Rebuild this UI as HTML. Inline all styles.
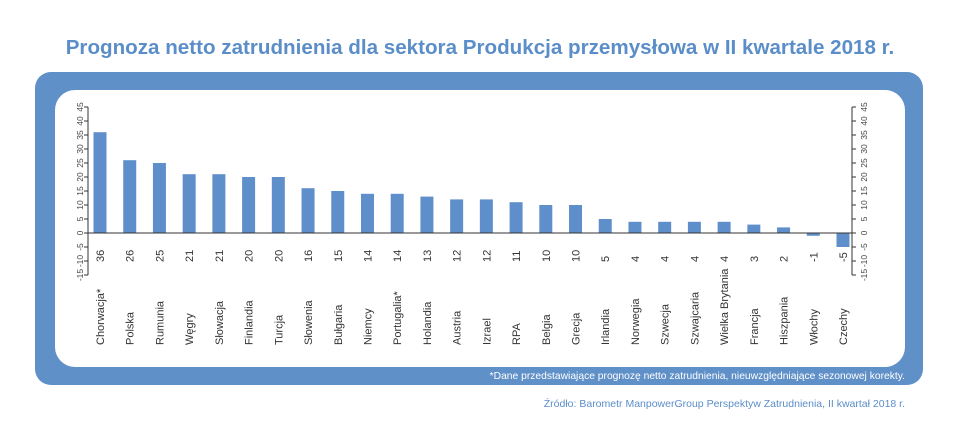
<!DOCTYPE html>
<html><head><meta charset="utf-8"><style>
body{margin:0;width:960px;height:437px;background:#fff;overflow:hidden;font-family:"Liberation Sans",sans-serif}
</style></head><body>
<svg width="960" height="437">
<text x="480" y="54" text-anchor="middle" font-size="20.6" font-weight="bold" fill="#5b8ec9">Prognoza netto zatrudnienia dla sektora Produkcja przemysłowa w II kwartale 2018 r.</text>
<rect x="35" y="72" width="888" height="313" rx="16" fill="#6090c8"/>
<rect x="55" y="90" width="850" height="277" rx="20" fill="#fff"/>
<text x="905" y="379" text-anchor="end" font-size="10.3" fill="#fff">*Dane przedstawiające prognozę netto zatrudnienia, nieuwzględniające sezonowej korekty.</text>
<text x="905" y="407" text-anchor="end" font-size="10.5" fill="#5b8ec9">Źródło: Barometr ManpowerGroup Perspektyw Zatrudnienia, II kwartał 2018 r.</text>
<g id="plot"></g>
</svg>
<script>
const categories=["Chorwacja*","Polska","Rumunia","Węgry","Słowacja","Finlandia","Turcja","Słowenia","Bułgaria","Niemcy","Portugalia*","Holandia","Austria","Izrael","RPA","Belgia","Grecja","Irlandia","Norwegia","Szwecja","Szwajcaria","Wielka Brytania","Francja","Hiszpania","Włochy","Czechy"];
const values=[36,26,25,21,21,20,20,16,15,14,14,13,12,12,11,10,10,5,4,4,4,4,3,2,-1,-5];
const ticks=[-15,-10,-5,0,5,10,15,20,25,30,35,40,45];
const NS="http://www.w3.org/2000/svg";
const g=document.getElementById('plot');
const y=v=>233-v*2.8;
const x=i=>100+i*29.72;
function mk(t,a,txt){const e=document.createElementNS(NS,t);for(const k in a)e.setAttribute(k,a[k]);if(txt!=null)e.textContent=txt;g.appendChild(e);return e;}
[88,852].forEach((ax,s)=>{
 const l=mk('line',{x1:ax,x2:ax,y1:y(45),y2:y(-15),stroke:'#333','stroke-width':1});
 
 
 ticks.forEach(t=>{
  const tk=mk('line',{x1:s?ax:ax-4,x2:s?ax+4:ax,y1:y(t),y2:y(t),stroke:'#333','stroke-width':1});
  
  
  const tx=s?ax+12:ax-8;
  const lb=mk('text',{x:tx,y:y(t),'font-size':8.5,fill:'#444','text-anchor':'middle',transform:`rotate(-90 ${tx} ${y(t)})`,'dominant-baseline':'central'},t);
  
  
 });
});
values.forEach((v,i)=>{
 const b=mk('rect',{x:x(i)-6.5,y:Math.min(y(v),y(0)),width:13,height:Math.abs(y(v)-y(0)),fill:'#5f8fca'});
 
 
 const vx=x(i)+4;
 const vl=mk('text',{x:vx,y:262,'font-size':11,fill:'#333',transform:`rotate(-90 ${vx} 262)`},v);
 
 
 const cl=mk('text',{x:vx,y:345,'font-size':11,fill:'#333',transform:`rotate(-90 ${vx} 345)`},categories[i]);
 
 
});
const z=mk('line',{x1:88,x2:852,y1:y(0),y2:y(0),stroke:'#333','stroke-width':1});


</script>
</body></html>
